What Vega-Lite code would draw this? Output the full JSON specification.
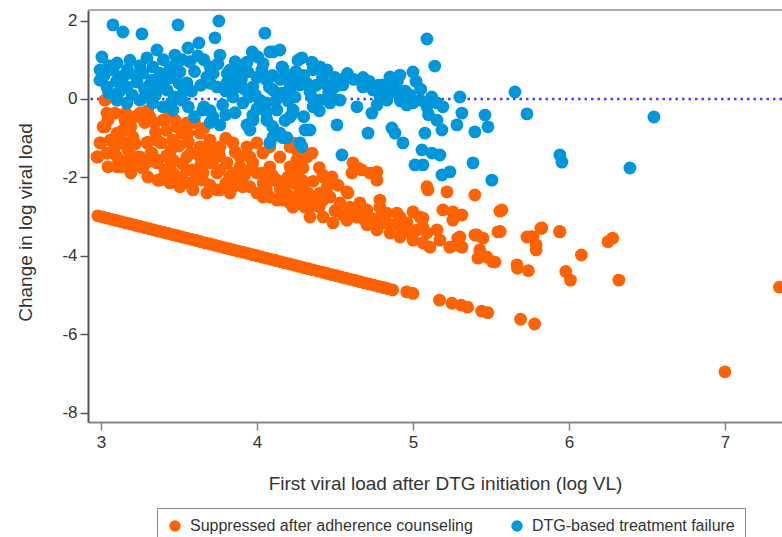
{
"$schema":"https://vega.github.io/schema/vega-lite/v6.json",
"width":694,"height":412,
"autosize":{"type":"none"},
"padding":{"left":88,"top":10,"right":0,"bottom":115},
"config":{"view":{"stroke":null},"font":"Liberation Sans",
"axis":{"labelFont":"Liberation Sans","titleFont":"Liberation Sans","labelFontSize":17,"titleFontSize":19,"titleFontWeight":"normal","labelColor":"#333","titleColor":"#333","grid":false,"tickSize":8,"domainWidth":2,"tickWidth":1.5},
"axisY":{"domainColor":"#555","tickColor":"#555","labelPadding":3,"titleX":-63,"titleY":212,"titleBaseline":"middle","titleAlign":"center"},
"axisX":{"domainColor":"#888","tickColor":"#888","labelPadding":4,"titleX":357,"titleY":67,"titleBaseline":"alphabetic","titleAlign":"center"}},
"data":{"values":[
{"x":2.98,"y":-2.98,"g":"s"},{"x":3.01,"y":-3.01,"g":"s"},{"x":3.04,"y":-3.04,"g":"s"},{"x":3.07,"y":-3.07,"g":"s"},{"x":3.10,"y":-3.10,"g":"s"},{"x":3.13,"y":-3.13,"g":"s"},{"x":3.16,"y":-3.16,"g":"s"},{"x":3.19,"y":-3.19,"g":"s"},{"x":3.22,"y":-3.22,"g":"s"},{"x":3.25,"y":-3.25,"g":"s"},{"x":3.28,"y":-3.28,"g":"s"},{"x":3.31,"y":-3.31,"g":"s"},{"x":3.34,"y":-3.34,"g":"s"},{"x":3.37,"y":-3.37,"g":"s"},{"x":3.40,"y":-3.40,"g":"s"},{"x":3.43,"y":-3.43,"g":"s"},{"x":3.46,"y":-3.46,"g":"s"},{"x":3.49,"y":-3.49,"g":"s"},{"x":3.52,"y":-3.52,"g":"s"},{"x":3.55,"y":-3.55,"g":"s"},{"x":3.58,"y":-3.58,"g":"s"},{"x":3.61,"y":-3.61,"g":"s"},{"x":3.64,"y":-3.64,"g":"s"},{"x":3.67,"y":-3.67,"g":"s"},{"x":3.70,"y":-3.70,"g":"s"},{"x":3.73,"y":-3.73,"g":"s"},{"x":3.76,"y":-3.76,"g":"s"},{"x":3.79,"y":-3.79,"g":"s"},{"x":3.82,"y":-3.82,"g":"s"},{"x":3.85,"y":-3.85,"g":"s"},{"x":3.88,"y":-3.88,"g":"s"},{"x":3.91,"y":-3.91,"g":"s"},{"x":3.94,"y":-3.94,"g":"s"},{"x":3.97,"y":-3.97,"g":"s"},{"x":4.00,"y":-4.00,"g":"s"},{"x":4.03,"y":-4.03,"g":"s"},{"x":4.06,"y":-4.06,"g":"s"},{"x":4.09,"y":-4.09,"g":"s"},{"x":4.12,"y":-4.12,"g":"s"},{"x":4.15,"y":-4.15,"g":"s"},{"x":4.18,"y":-4.18,"g":"s"},{"x":4.21,"y":-4.21,"g":"s"},{"x":4.24,"y":-4.24,"g":"s"},{"x":4.27,"y":-4.27,"g":"s"},{"x":4.30,"y":-4.30,"g":"s"},{"x":4.33,"y":-4.33,"g":"s"},{"x":4.36,"y":-4.36,"g":"s"},{"x":4.39,"y":-4.39,"g":"s"},{"x":4.42,"y":-4.42,"g":"s"},{"x":4.45,"y":-4.45,"g":"s"},{"x":4.48,"y":-4.48,"g":"s"},{"x":4.51,"y":-4.51,"g":"s"},{"x":4.54,"y":-4.54,"g":"s"},{"x":4.57,"y":-4.57,"g":"s"},{"x":4.60,"y":-4.60,"g":"s"},{"x":4.63,"y":-4.63,"g":"s"},{"x":4.66,"y":-4.66,"g":"s"},{"x":4.69,"y":-4.69,"g":"s"},{"x":4.72,"y":-4.72,"g":"s"},{"x":4.75,"y":-4.75,"g":"s"},{"x":4.78,"y":-4.78,"g":"s"},{"x":4.81,"y":-4.81,"g":"s"},{"x":4.84,"y":-4.84,"g":"s"},{"x":4.87,"y":-4.87,"g":"s"},
{"x":4.96,"y":-4.92,"g":"s"},{"x":5.00,"y":-4.96,"g":"s"},{"x":5.17,"y":-5.13,"g":"s"},{"x":5.25,"y":-5.21,"g":"s"},{"x":5.31,"y":-5.26,"g":"s"},{"x":5.35,"y":-5.31,"g":"s"},{"x":5.44,"y":-5.41,"g":"s"},{"x":5.48,"y":-5.45,"g":"s"},{"x":5.69,"y":-5.62,"g":"s"},{"x":5.78,"y":-5.74,"g":"s"},{"x":7.00,"y":-6.96,"g":"s"},{"x":7.35,"y":-4.80,"g":"s"},
{"x":3.026,"y":-0.03,"g":"s"},{"x":3.038,"y":-0.36,"g":"s"},{"x":3.090,"y":-0.36,"g":"s"},{"x":3.013,"y":-0.71,"g":"s"},{"x":3.103,"y":-0.87,"g":"s"},{"x":3.186,"y":-0.54,"g":"s"},{"x":3.25,"y":-0.36,"g":"s"},{"x":3.314,"y":-0.46,"g":"s"},{"x":3.397,"y":-0.54,"g":"s"},{"x":3.487,"y":-0.71,"g":"s"},{"x":3.551,"y":-0.61,"g":"s"},{"x":3.519,"y":-0.87,"g":"s"},{"x":2.994,"y":-1.12,"g":"s"},{"x":2.974,"y":-1.48,"g":"s"},{"x":3.038,"y":-1.38,"g":"s"},{"x":3.103,"y":-1.48,"g":"s"},{"x":3.141,"y":-1.12,"g":"s"},{"x":3.205,"y":-0.97,"g":"s"},{"x":3.295,"y":-1.12,"g":"s"},{"x":3.359,"y":-1.05,"g":"s"},{"x":3.327,"y":-1.38,"g":"s"},{"x":3.25,"y":-1.48,"g":"s"},{"x":3.186,"y":-1.56,"g":"s"},{"x":3.103,"y":-1.73,"g":"s"},{"x":3.186,"y":-1.81,"g":"s"},{"x":3.269,"y":-1.76,"g":"s"},{"x":3.359,"y":-1.63,"g":"s"},{"x":3.462,"y":-1.56,"g":"s"},{"x":3.551,"y":-1.48,"g":"s"},{"x":3.635,"y":-1.22,"g":"s"},{"x":3.635,"y":-0.87,"g":"s"},{"x":3.699,"y":-1.05,"g":"s"},{"x":3.763,"y":-1.22,"g":"s"},{"x":3.846,"y":-1.12,"g":"s"},{"x":3.891,"y":-1.48,"g":"s"},{"x":3.808,"y":-1.63,"g":"s"},{"x":3.718,"y":-1.56,"g":"s"},{"x":3.635,"y":-1.73,"g":"s"},{"x":3.551,"y":-1.81,"g":"s"},{"x":3.462,"y":-1.89,"g":"s"},{"x":3.378,"y":-2.07,"g":"s"},{"x":3.442,"y":-2.14,"g":"s"},{"x":3.506,"y":-2.24,"g":"s"},{"x":3.590,"y":-2.32,"g":"s"},{"x":3.679,"y":-2.40,"g":"s"},{"x":3.763,"y":-2.32,"g":"s"},{"x":3.846,"y":-2.24,"g":"s"},{"x":3.955,"y":-2.24,"g":"s"},{"x":4.038,"y":-2.50,"g":"s"},{"x":4.128,"y":-2.58,"g":"s"},{"x":4.212,"y":-2.65,"g":"s"},{"x":4.192,"y":-2.14,"g":"s"},{"x":4.231,"y":-1.73,"g":"s"},{"x":4.147,"y":-1.48,"g":"s"},{"x":4.083,"y":-1.22,"g":"s"},{"x":4.0,"y":-1.12,"g":"s"},{"x":3.955,"y":-1.48,"g":"s"},{"x":4.038,"y":-1.89,"g":"s"},{"x":4.103,"y":-2.07,"g":"s"},{"x":4.256,"y":-1.30,"g":"s"},{"x":4.276,"y":-2.24,"g":"s"},{"x":4.256,"y":-2.50,"g":"s"},{"x":3.654,"y":-1.89,"g":"s"},{"x":3.744,"y":-1.89,"g":"s"},{"x":3.846,"y":-1.89,"g":"s"},
{"x":4.231,"y":-1.12,"g":"s"},{"x":4.256,"y":-1.56,"g":"s"},{"x":4.321,"y":-1.48,"g":"s"},{"x":4.353,"y":-1.38,"g":"s"},{"x":4.295,"y":-1.76,"g":"s"},{"x":4.288,"y":-2.07,"g":"s"},{"x":4.295,"y":-2.27,"g":"s"},{"x":4.327,"y":-2.40,"g":"s"},{"x":4.276,"y":-2.58,"g":"s"},{"x":4.340,"y":-2.76,"g":"s"},{"x":4.423,"y":-1.99,"g":"s"},{"x":4.481,"y":-1.99,"g":"s"},{"x":4.423,"y":-2.58,"g":"s"},{"x":4.468,"y":-2.50,"g":"s"},{"x":4.577,"y":-2.37,"g":"s"},{"x":4.615,"y":-1.63,"g":"s"},{"x":4.609,"y":-1.89,"g":"s"},{"x":4.647,"y":-1.76,"g":"s"},{"x":4.724,"y":-1.89,"g":"s"},{"x":4.769,"y":-1.86,"g":"s"},{"x":4.769,"y":-2.07,"g":"s"},{"x":4.532,"y":-2.65,"g":"s"},{"x":4.596,"y":-2.76,"g":"s"},{"x":4.660,"y":-2.65,"g":"s"},{"x":4.705,"y":-2.83,"g":"s"},{"x":4.788,"y":-2.76,"g":"s"},{"x":4.833,"y":-2.91,"g":"s"},{"x":4.917,"y":-3.01,"g":"s"},{"x":5.0,"y":-2.88,"g":"s"},{"x":4.962,"y":-3.16,"g":"s"},{"x":5.045,"y":-3.01,"g":"s"},{"x":5.064,"y":-3.27,"g":"s"},{"x":5.090,"y":-2.24,"g":"s"},{"x":4.340,"y":-3.01,"g":"s"},{"x":4.423,"y":-3.01,"g":"s"},{"x":4.487,"y":-3.16,"g":"s"},{"x":4.577,"y":-3.09,"g":"s"},{"x":4.641,"y":-3.01,"g":"s"},{"x":4.705,"y":-3.21,"g":"s"},{"x":4.769,"y":-3.34,"g":"s"},{"x":4.853,"y":-3.42,"g":"s"},{"x":4.917,"y":-3.52,"g":"s"},{"x":5.0,"y":-3.60,"g":"s"},{"x":5.064,"y":-3.67,"g":"s"},{"x":4.808,"y":-3.16,"g":"s"},
{"x":5.096,"y":-2.32,"g":"s"},{"x":5.218,"y":-2.37,"g":"s"},{"x":5.397,"y":-2.45,"g":"s"},{"x":5.558,"y":-2.86,"g":"s"},{"x":5.192,"y":-2.83,"g":"s"},{"x":5.256,"y":-2.88,"g":"s"},{"x":5.314,"y":-2.96,"g":"s"},{"x":5.256,"y":-3.09,"g":"s"},{"x":5.064,"y":-3.04,"g":"s"},{"x":5.545,"y":-3.39,"g":"s"},{"x":5.731,"y":-3.52,"g":"s"},{"x":5.090,"y":-3.42,"g":"s"},{"x":5.154,"y":-3.34,"g":"s"},{"x":5.173,"y":-3.60,"g":"s"},{"x":5.109,"y":-3.78,"g":"s"},{"x":5.237,"y":-3.78,"g":"s"},{"x":5.288,"y":-3.55,"g":"s"},{"x":5.314,"y":-3.78,"g":"s"},{"x":5.397,"y":-3.47,"g":"s"},{"x":5.449,"y":-3.55,"g":"s"},{"x":5.429,"y":-3.85,"g":"s"},{"x":5.417,"y":-4.06,"g":"s"},{"x":5.474,"y":-4.03,"g":"s"},{"x":5.526,"y":-4.16,"g":"s"},{"x":5.667,"y":-4.23,"g":"s"},
{"x":4.212,"y":-1.22,"g":"s"},{"x":4.199,"y":-1.99,"g":"s"},{"x":4.288,"y":-2.50,"g":"s"},{"x":4.423,"y":-1.94,"g":"s"},{"x":4.583,"y":-2.40,"g":"s"},{"x":4.673,"y":-1.81,"g":"s"},{"x":5.410,"y":-3.47,"g":"s"},{"x":5.301,"y":-3.52,"g":"s"},{"x":5.282,"y":-3.72,"g":"s"},{"x":5.026,"y":-3.34,"g":"s"},{"x":4.897,"y":-2.91,"g":"s"},{"x":4.788,"y":-2.58,"g":"s"},{"x":4.647,"y":-2.78,"g":"s"},{"x":4.404,"y":-2.40,"g":"s"},{"x":4.359,"y":-2.58,"g":"s"},{"x":4.308,"y":-2.76,"g":"s"},{"x":5.769,"y":-3.52,"g":"s"},{"x":5.827,"y":-3.29,"g":"s"},{"x":5.942,"y":-3.39,"g":"s"},
{"x":5.57,"y":-2.83,"g":"s"},{"x":5.56,"y":-3.38,"g":"s"},{"x":5.76,"y":-3.51,"g":"s"},{"x":5.82,"y":-3.30,"g":"s"},{"x":5.79,"y":-3.72,"g":"s"},{"x":5.94,"y":-3.38,"g":"s"},{"x":6.25,"y":-3.64,"g":"s"},{"x":6.28,"y":-3.55,"g":"s"},{"x":5.43,"y":-4.02,"g":"s"},{"x":5.51,"y":-4.15,"g":"s"},{"x":5.67,"y":-4.32,"g":"s"},{"x":5.74,"y":-4.38,"g":"s"},{"x":5.98,"y":-4.40,"g":"s"},{"x":6.01,"y":-4.62,"g":"s"},{"x":6.08,"y":-3.98,"g":"s"},{"x":6.32,"y":-4.62,"g":"s"},{"x":5.79,"y":-3.85,"g":"s"},
{"x":3.699,"y":-1.12,"g":"s"},{"x":3.936,"y":-1.22,"g":"s"},{"x":4.038,"y":-1.38,"g":"s"},{"x":3.974,"y":-1.63,"g":"s"},{"x":4.212,"y":-1.73,"g":"s"},{"x":4.256,"y":-1.89,"g":"s"},{"x":4.128,"y":-2.07,"g":"s"},{"x":4.083,"y":-1.73,"g":"s"},{"x":4.0,"y":-1.89,"g":"s"},{"x":3.891,"y":-1.73,"g":"s"},{"x":3.827,"y":-1.99,"g":"s"},{"x":3.763,"y":-1.81,"g":"s"},{"x":3.699,"y":-1.63,"g":"s"},{"x":3.635,"y":-1.48,"g":"s"},{"x":3.590,"y":-1.81,"g":"s"},{"x":3.654,"y":-2.07,"g":"s"},{"x":3.744,"y":-2.32,"g":"s"},{"x":3.827,"y":-2.40,"g":"s"},{"x":3.910,"y":-2.24,"g":"s"},{"x":4.0,"y":-2.40,"g":"s"},{"x":4.083,"y":-2.50,"g":"s"},{"x":4.167,"y":-2.58,"g":"s"},{"x":4.231,"y":-2.76,"g":"s"},{"x":4.276,"y":-2.32,"g":"s"},{"x":4.231,"y":-2.14,"g":"s"},
{"x":3.045,"y":-0.54,"g":"s"},{"x":3.026,"y":-0.71,"g":"s"},{"x":3.109,"y":-0.87,"g":"s"},{"x":3.154,"y":-0.54,"g":"s"},{"x":3.218,"y":-0.46,"g":"s"},{"x":3.192,"y":-0.71,"g":"s"},{"x":3.301,"y":-1.10,"g":"s"},{"x":3.346,"y":-0.61,"g":"s"},{"x":3.410,"y":-0.54,"g":"s"},{"x":3.474,"y":-0.54,"g":"s"},{"x":3.538,"y":-0.71,"g":"s"},{"x":3.558,"y":-0.87,"g":"s"},{"x":3.0,"y":-1.12,"g":"s"},{"x":2.981,"y":-1.48,"g":"s"},{"x":3.045,"y":-1.38,"g":"s"},{"x":3.090,"y":-1.22,"g":"s"},{"x":3.128,"y":-1.05,"g":"s"},{"x":3.173,"y":-1.30,"g":"s"},{"x":3.218,"y":-1.48,"g":"s"},{"x":3.256,"y":-1.73,"g":"s"},{"x":3.128,"y":-1.73,"g":"s"},{"x":3.045,"y":-1.73,"g":"s"},{"x":3.192,"y":-1.89,"g":"s"},{"x":3.301,"y":-1.99,"g":"s"},{"x":3.365,"y":-2.07,"g":"s"},{"x":3.410,"y":-1.81,"g":"s"},{"x":3.449,"y":-1.63,"g":"s"},{"x":3.365,"y":-1.56,"g":"s"},{"x":3.321,"y":-1.38,"g":"s"},{"x":3.385,"y":-1.12,"g":"s"},{"x":3.449,"y":-1.30,"g":"s"},{"x":3.494,"y":-1.99,"g":"s"},{"x":3.558,"y":-2.14,"g":"s"},{"x":3.603,"y":-1.89,"g":"s"},{"x":3.577,"y":-1.38,"g":"s"},
{"x":3.06,"y":-1.05,"g":"s"},{"x":3.14,"y":-0.80,"g":"s"},{"x":3.22,"y":-1.15,"g":"s"},{"x":3.28,"y":-0.60,"g":"s"},{"x":3.35,"y":-0.85,"g":"s"},{"x":3.42,"y":-0.80,"g":"s"},{"x":3.46,"y":-1.05,"g":"s"},{"x":3.50,"y":-1.20,"g":"s"},{"x":3.56,"y":-1.10,"g":"s"},{"x":3.60,"y":-0.60,"g":"s"},{"x":3.66,"y":-0.75,"g":"s"},{"x":3.70,"y":-1.35,"g":"s"},{"x":3.76,"y":-1.45,"g":"s"},{"x":3.80,"y":-1.00,"g":"s"},{"x":3.86,"y":-1.35,"g":"s"},{"x":3.92,"y":-1.95,"g":"s"},{"x":3.96,"y":-1.80,"g":"s"},{"x":4.04,"y":-2.15,"g":"s"},{"x":4.10,"y":-1.95,"g":"s"},{"x":4.15,"y":-2.30,"g":"s"},{"x":4.20,"y":-2.45,"g":"s"},{"x":3.40,"y":-2.00,"g":"s"},{"x":3.52,"y":-2.05,"g":"s"},{"x":3.60,"y":-2.10,"g":"s"},{"x":3.70,"y":-2.20,"g":"s"},{"x":3.80,"y":-2.15,"g":"s"},{"x":3.88,"y":-2.05,"g":"s"},{"x":4.06,"y":-2.30,"g":"s"},{"x":3.14,"y":-1.60,"g":"s"},{"x":3.22,"y":-1.70,"g":"s"},{"x":3.30,"y":-1.60,"g":"s"},{"x":3.42,"y":-1.45,"g":"s"},{"x":3.52,"y":-1.65,"g":"s"},{"x":3.16,"y":-0.35,"g":"s"},{"x":3.30,"y":-0.30,"g":"s"},{"x":3.44,"y":-0.35,"g":"s"},
{"x":4.40,"y":-2.75,"g":"s"},{"x":4.50,"y":-2.85,"g":"s"},{"x":4.55,"y":-2.95,"g":"s"},{"x":4.62,"y":-2.85,"g":"s"},{"x":4.68,"y":-3.05,"g":"s"},{"x":4.74,"y":-3.05,"g":"s"},{"x":4.80,"y":-2.95,"g":"s"},{"x":4.86,"y":-3.20,"g":"s"},{"x":4.92,"y":-3.25,"g":"s"},{"x":4.98,"y":-3.40,"g":"s"},{"x":4.45,"y":-2.25,"g":"s"},{"x":4.52,"y":-2.20,"g":"s"},{"x":4.36,"y":-2.10,"g":"s"},{"x":4.40,"y":-1.75,"g":"s"},
{"x":3.077,"y":1.89,"g":"f"},{"x":3.141,"y":1.71,"g":"f"},{"x":3.263,"y":1.66,"g":"f"},{"x":3.494,"y":1.89,"g":"f"},{"x":3.756,"y":1.99,"g":"f"},{"x":3.731,"y":1.56,"g":"f"},{"x":3.628,"y":1.43,"g":"f"},{"x":3.558,"y":1.30,"g":"f"},{"x":3.474,"y":1.12,"g":"f"},{"x":3.359,"y":1.25,"g":"f"},{"x":3.295,"y":1.05,"g":"f"},{"x":3.186,"y":0.99,"g":"f"},{"x":3.103,"y":0.92,"g":"f"},{"x":3.006,"y":1.07,"g":"f"},{"x":2.994,"y":0.74,"g":"f"},{"x":2.994,"y":0.48,"g":"f"},{"x":3.038,"y":0.31,"g":"f"},{"x":3.077,"y":0.74,"g":"f"},{"x":3.122,"y":0.56,"g":"f"},{"x":3.167,"y":0.31,"g":"f"},{"x":3.231,"y":0.43,"g":"f"},{"x":3.269,"y":0.66,"g":"f"},{"x":3.333,"y":0.82,"g":"f"},{"x":3.327,"y":0.48,"g":"f"},{"x":3.378,"y":0.31,"g":"f"},{"x":3.423,"y":0.23,"g":"f"},{"x":3.442,"y":0.54,"g":"f"},{"x":3.506,"y":0.69,"g":"f"},{"x":3.551,"y":0.41,"g":"f"},{"x":3.519,"y":-0.03,"g":"f"},{"x":3.462,"y":-0.28,"g":"f"},{"x":3.397,"y":-0.20,"g":"f"},{"x":3.333,"y":-0.10,"g":"f"},{"x":3.25,"y":-0.03,"g":"f"},{"x":3.167,"y":-0.10,"g":"f"},{"x":3.103,"y":-0.03,"g":"f"},{"x":3.654,"y":-0.28,"g":"f"},{"x":3.718,"y":-0.46,"g":"f"},{"x":3.763,"y":-0.66,"g":"f"},{"x":3.744,"y":0.31,"g":"f"},{"x":3.679,"y":0.56,"g":"f"},{"x":3.699,"y":0.82,"g":"f"},{"x":3.763,"y":1.12,"g":"f"},{"x":3.827,"y":0.74,"g":"f"},{"x":3.808,"y":0.41,"g":"f"},{"x":3.846,"y":0.05,"g":"f"},{"x":3.910,"y":-0.10,"g":"f"},{"x":3.974,"y":-0.41,"g":"f"},{"x":3.936,"y":-0.66,"g":"f"},{"x":3.942,"y":0.69,"g":"f"},{"x":3.936,"y":0.94,"g":"f"},{"x":4.006,"y":1.07,"g":"f"},{"x":4.051,"y":1.68,"g":"f"},{"x":4.083,"y":1.20,"g":"f"},{"x":4.103,"y":1.20,"g":"f"},{"x":4.160,"y":0.82,"g":"f"},{"x":4.032,"y":0.74,"g":"f"},{"x":4.064,"y":0.48,"g":"f"},{"x":4.103,"y":0.23,"g":"f"},{"x":4.019,"y":-0.03,"g":"f"},{"x":4.128,"y":-0.28,"g":"f"},{"x":4.231,"y":-0.36,"g":"f"},{"x":4.128,"y":-0.87,"g":"f"},{"x":4.192,"y":-0.99,"g":"f"},{"x":4.276,"y":-1.12,"g":"f"},{"x":4.263,"y":0.99,"g":"f"},{"x":4.212,"y":0.31,"g":"f"},{"x":4.244,"y":0.05,"g":"f"},{"x":3.974,"y":0.31,"g":"f"},{"x":3.872,"y":0.31,"g":"f"},
{"x":5.09,"y":1.53,"g":"f"},{"x":5.14,"y":0.84,"g":"f"},{"x":5.00,"y":0.69,"g":"f"},{"x":4.917,"y":0.61,"g":"f"},{"x":4.853,"y":0.56,"g":"f"},{"x":4.808,"y":0.36,"g":"f"},{"x":4.744,"y":0.23,"g":"f"},{"x":4.679,"y":0.31,"g":"f"},{"x":4.551,"y":0.36,"g":"f"},{"x":4.50,"y":0.31,"g":"f"},{"x":4.449,"y":0.74,"g":"f"},{"x":4.404,"y":0.82,"g":"f"},{"x":4.353,"y":0.94,"g":"f"},{"x":4.288,"y":1.05,"g":"f"},{"x":4.167,"y":0.79,"g":"f"},{"x":4.147,"y":1.25,"g":"f"},{"x":4.212,"y":0.23,"g":"f"},{"x":4.276,"y":0.36,"g":"f"},{"x":4.340,"y":0.18,"g":"f"},{"x":4.404,"y":-0.03,"g":"f"},{"x":4.468,"y":-0.10,"g":"f"},{"x":4.532,"y":-0.03,"g":"f"},{"x":4.641,"y":-0.20,"g":"f"},{"x":4.737,"y":-0.36,"g":"f"},{"x":4.833,"y":-0.03,"g":"f"},{"x":4.917,"y":0.05,"g":"f"},{"x":4.981,"y":0.10,"g":"f"},{"x":5.045,"y":-0.03,"g":"f"},{"x":5.09,"y":-0.20,"g":"f"},{"x":5.154,"y":-0.10,"g":"f"},{"x":5.192,"y":-0.20,"g":"f"},{"x":5.301,"y":0.05,"g":"f"},{"x":5.314,"y":-0.36,"g":"f"},{"x":5.282,"y":-0.66,"g":"f"},{"x":5.154,"y":-0.54,"g":"f"},{"x":5.186,"y":-0.79,"g":"f"},{"x":5.077,"y":-0.87,"g":"f"},{"x":5.058,"y":-1.30,"g":"f"},{"x":5.122,"y":-1.38,"g":"f"},{"x":5.173,"y":-1.43,"g":"f"},{"x":5.013,"y":-1.68,"g":"f"},{"x":5.064,"y":-1.68,"g":"f"},{"x":5.186,"y":-1.94,"g":"f"},{"x":5.237,"y":-1.86,"g":"f"},{"x":5.385,"y":-1.63,"g":"f"},{"x":5.506,"y":-2.07,"g":"f"},{"x":5.397,"y":-0.84,"g":"f"},{"x":5.462,"y":-0.41,"g":"f"},{"x":5.481,"y":-0.71,"g":"f"},{"x":4.936,"y":-1.12,"g":"f"},{"x":4.865,"y":-0.74,"g":"f"},{"x":4.885,"y":-0.87,"g":"f"},{"x":4.712,"y":-0.87,"g":"f"},{"x":4.513,"y":-0.66,"g":"f"},{"x":4.545,"y":-1.43,"g":"f"},{"x":4.340,"y":-0.79,"g":"f"},{"x":4.308,"y":-0.79,"g":"f"},{"x":4.288,"y":-1.22,"g":"f"},{"x":4.231,"y":-0.28,"g":"f"},{"x":4.167,"y":-0.99,"g":"f"},{"x":5.654,"y":0.18,"g":"f"},{"x":5.731,"y":-0.38,"g":"f"},{"x":5.942,"y":-1.43,"g":"f"},{"x":5.955,"y":-1.61,"g":"f"},{"x":6.391,"y":-1.76,"g":"f"},{"x":6.545,"y":-0.46,"g":"f"},
{"x":3.20,"y":0.10,"g":"f"},{"x":3.29,"y":0.05,"g":"f"},{"x":3.47,"y":0.05,"g":"f"},{"x":3.58,"y":0.20,"g":"f"},{"x":3.60,"y":0.70,"g":"f"},{"x":3.66,"y":-0.20,"g":"f"},{"x":3.78,"y":-0.15,"g":"f"},{"x":3.86,"y":-0.35,"g":"f"},{"x":3.90,"y":0.50,"g":"f"},{"x":3.99,"y":0.10,"g":"f"},{"x":4.06,"y":-0.10,"g":"f"},{"x":4.15,"y":0.50,"g":"f"},{"x":4.30,"y":0.60,"g":"f"},{"x":4.38,"y":0.35,"g":"f"},{"x":4.46,"y":0.15,"g":"f"},{"x":4.62,"y":0.50,"g":"f"},{"x":4.79,"y":0.05,"g":"f"},{"x":4.88,"y":0.30,"g":"f"},{"x":4.96,"y":-0.15,"g":"f"},{"x":4.40,"y":-0.30,"g":"f"},{"x":3.31,"y":0.35,"g":"f"},{"x":3.17,"y":0.75,"g":"f"},{"x":3.38,"y":0.65,"g":"f"},{"x":3.47,"y":0.85,"g":"f"},{"x":3.57,"y":0.95,"g":"f"},{"x":3.86,"y":0.95,"g":"f"},{"x":3.97,"y":1.20,"g":"f"},{"x":4.25,"y":0.70,"g":"f"},{"x":4.50,"y":0.55,"g":"f"},{"x":4.68,"y":0.55,"g":"f"},{"x":4.85,"y":0.15,"g":"f"},{"x":5.05,"y":0.25,"g":"f"},{"x":3.81,"y":0.65,"g":"f"},{"x":4.10,"y":0.60,"g":"f"},{"x":4.20,"y":-0.05,"g":"f"},{"x":4.35,"y":0.05,"g":"f"},{"x":4.77,"y":-0.15,"g":"f"},
{"x":3.974,"y":-0.54,"g":"f"},{"x":4.064,"y":-0.54,"g":"f"},{"x":4.103,"y":-0.97,"g":"f"},{"x":4.147,"y":-0.87,"g":"f"},{"x":4.212,"y":-0.46,"g":"f"},{"x":4.083,"y":-1.12,"g":"f"},{"x":3.955,"y":-0.79,"g":"f"},{"x":3.60,"y":-0.45,"g":"f"},{"x":3.70,"y":-0.60,"g":"f"},
{"x":3.02,"y":0.60,"g":"f"},{"x":3.05,"y":0.85,"g":"f"},{"x":3.10,"y":0.45,"g":"f"},{"x":3.12,"y":0.20,"g":"f"},{"x":3.15,"y":0.60,"g":"f"},{"x":3.22,"y":0.60,"g":"f"},{"x":3.25,"y":0.85,"g":"f"},{"x":3.28,"y":0.25,"g":"f"},{"x":3.05,"y":0.15,"g":"f"},
{"x":3.35,"y":0.10,"g":"f"},{"x":3.40,"y":0.45,"g":"f"},{"x":3.44,"y":0.75,"g":"f"},{"x":3.50,"y":0.40,"g":"f"},{"x":3.53,"y":0.20,"g":"f"},{"x":3.40,"y":1.00,"g":"f"},{"x":3.52,"y":1.00,"g":"f"},{"x":3.62,"y":1.10,"g":"f"},{"x":3.45,"y":-0.10,"g":"f"},{"x":3.56,"y":-0.20,"g":"f"},
{"x":3.64,"y":0.35,"g":"f"},{"x":3.70,"y":0.40,"g":"f"},{"x":3.72,"y":0.65,"g":"f"},{"x":3.75,"y":0.90,"g":"f"},{"x":3.80,"y":0.20,"g":"f"},{"x":3.84,"y":0.50,"g":"f"},{"x":3.88,"y":0.75,"g":"f"},{"x":3.66,"y":1.00,"g":"f"},{"x":3.80,"y":-0.40,"g":"f"},{"x":3.70,"y":-0.30,"g":"f"},
{"x":3.92,"y":0.25,"g":"f"},{"x":3.95,"y":0.05,"g":"f"},{"x":4.00,"y":0.55,"g":"f"},{"x":4.04,"y":0.90,"g":"f"},{"x":4.08,"y":0.30,"g":"f"},{"x":4.12,"y":-0.05,"g":"f"},{"x":4.16,"y":0.15,"g":"f"},{"x":4.20,"y":0.60,"g":"f"},{"x":4.24,"y":0.45,"g":"f"},{"x":4.00,"y":-0.25,"g":"f"},{"x":4.06,"y":-0.35,"g":"f"},{"x":4.18,"y":-0.55,"g":"f"},{"x":4.10,"y":-0.70,"g":"f"},
{"x":4.32,"y":0.40,"g":"f"},{"x":4.36,"y":0.75,"g":"f"},{"x":4.42,"y":0.55,"g":"f"},{"x":4.45,"y":0.35,"g":"f"},{"x":4.48,"y":0.05,"g":"f"},{"x":4.55,"y":0.50,"g":"f"},{"x":4.58,"y":0.65,"g":"f"},{"x":4.36,"y":-0.20,"g":"f"},{"x":4.30,"y":-0.45,"g":"f"},
{"x":4.72,"y":0.45,"g":"f"},{"x":4.78,"y":0.35,"g":"f"},{"x":4.82,"y":0.20,"g":"f"},{"x":4.90,"y":0.45,"g":"f"},{"x":4.95,"y":0.20,"g":"f"},{"x":5.00,"y":-0.10,"g":"f"},{"x":5.02,"y":0.45,"g":"f"},{"x":5.10,"y":-0.40,"g":"f"},{"x":5.12,"y":0.05,"g":"f"},{"x":4.92,"y":-0.05,"g":"f"}
]},
"layer":[
{"data":{"values":[{}]},"mark":{"type":"rule","color":"#aaaaaa","strokeWidth":2},"encoding":{"y":{"datum":2.27,"type":"quantitative","title":"Change in log viral load"}}},
{"data":{"values":[{}]},"mark":{"type":"rule","color":"#4a3cff","strokeDash":[2.5,4],"strokeWidth":2.5},"encoding":{"y":{"datum":0,"type":"quantitative","title":"Change in log viral load"}}},
{"mark":{"type":"circle","size":165,"opacity":1},
"encoding":{
"x":{"field":"x","type":"quantitative","title":"First viral load after DTG initiation (log VL)","scale":{"domain":[2.917,7.366],"nice":false,"zero":false},"axis":{"values":[3,4,5,6,7],"labelExpr":"toString(datum.value)"}},
"y":{"field":"y","type":"quantitative","title":"Change in log viral load","scale":{"domain":[-8.24,2.27],"nice":false,"zero":false},"axis":{"values":[2,0,-2,-4,-6,-8],"labelExpr":"toString(datum.value)"}},
"color":{"field":"g","type":"nominal","scale":{"domain":["s","f"],"range":["#ff6200","#0096dc"]},
"legend":{"orient":"none","legendX":69,"legendY":498,"direction":"horizontal","columns":2,"title":null,"strokeColor":"#888","padding":10,"fillColor":"white","labelFontSize":16,"labelLimit":500,"labelFont":"Liberation Sans","labelColor":"#333","symbolSize":130,"symbolType":"circle","symbolStrokeWidth":0,"symbolOpacity":1,"labelOffset":7,"columnPadding":36,"labelExpr":"datum.label == 's' ? 'Suppressed after adherence counseling' : 'DTG-based treatment failure'"}}}}
]
}
